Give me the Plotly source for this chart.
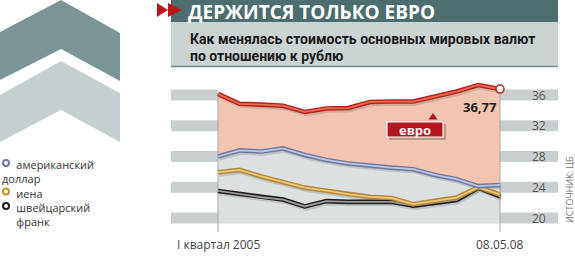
import plotly.graph_objects as go

# ---------------- data ----------------
periods = ["I кв. 2005", "II кв. 2005", "III кв. 2005", "IV кв. 2005",
           "I кв. 2006", "II кв. 2006", "III кв. 2006", "IV кв. 2006",
           "I кв. 2007", "II кв. 2007", "III кв. 2007", "IV кв. 2007",
           "I кв. 2008", "08.05.08"]
euro = [36.15, 34.85, 34.75, 34.6, 33.8, 34.25, 34.3, 35.1, 35.15, 35.15, 35.8, 36.45, 37.3, 36.77]
usd = [28.0, 28.8, 28.65, 29.05, 28.2, 27.55, 27.1, 26.8, 26.55, 26.35, 25.6, 25.05, 24.15, 24.3]
yen = [25.95, 26.25, 25.4, 24.65, 23.95, 23.55, 23.1, 22.75, 22.6, 21.8, 22.25, 22.65, 24.0, 23.05]
chf = [23.52, 23.1, 22.7, 22.4, 21.5, 22.2, 22.1, 22.1, 22.1, 21.6, 22.0, 22.35, 23.95, 22.8]
y_ticks = [20, 24, 28, 32, 36]
x_tick_labels = ["I квартал 2005", "08.05.08"]
euro_last_label = "36,77"

title = "ДЕРЖИТСЯ ТОЛЬКО ЕВРО"
subtitle1 = "Как менялась стоимость основных мировых валют"
subtitle2 = "по отношению к рублю"
source = "ИСТОЧНИК: ЦБ"
legend_names = ["американский доллар", "иена", "швейцарский франк"]

# ---------------- geometry ----------------
W, H = 575, 260
X0_PX, X1_PX = 218.0, 500.0
n = len(periods)
SX = (X1_PX - X0_PX) / (n - 1)
Y36_PX, KY = 95.0, 7.6875
xs = list(range(n))


def dx(px):
    return (px - X0_PX) / SX


def dy(py):
    return 36 - (py - Y36_PX) / KY


def PX(x):
    return x / W


def PY(y):
    return 1 - y / H


x_range = [dx(0), dx(W)]
y_range = [dy(H), dy(0)]

FONT = "Open Sans, DejaVu Sans, sans-serif"
NARROW = "Roboto, Liberation Sans, sans-serif"

fig = go.Figure()

# fills: gray under dollar, salmon between dollar and euro
base = dy(223.3)
fig.add_trace(go.Scatter(x=xs, y=[base] * n, mode="lines", line=dict(width=0),
                         hoverinfo="skip"))
fig.add_trace(go.Scatter(x=xs, y=usd, mode="lines", line=dict(width=0),
                         fill="tonexty", fillcolor="#dde0e0", hoverinfo="skip"))
fig.add_trace(go.Scatter(x=xs, y=euro, mode="lines", line=dict(width=0),
                         fill="tonexty", fillcolor="#f2c5b3", hoverinfo="skip"))

# vertical guide lines
for xi, top in [(0, euro[0]), (n - 1, euro[-1])]:
    fig.add_trace(go.Scatter(x=[xi, xi], y=[top, dy(232)], mode="lines",
                             line=dict(color="#a3aaaa", width=1), hoverinfo="skip"))

# line series with shadow, dark outline and lighter core
series = [
    (chf, "#1c1c1c", "#9c9c9c"),
    (yen, "#b0873a", "#ecc97a"),
    (usd, "#6e79a0", "#bcc3e0"),
    (euro, "#b3231c", "#ec6a52"),
]
sh_dx, sh_dy = 0.06, -0.28
for vals, dark, light in series:
    fig.add_trace(go.Scatter(x=[v + sh_dx for v in xs], y=[v + sh_dy for v in vals],
                             mode="lines", line=dict(color="rgba(0,0,0,0.13)", width=4.5),
                             hoverinfo="skip"))
for vals, dark, light in series:
    fig.add_trace(go.Scatter(x=xs, y=vals, mode="lines",
                             line=dict(color=dark, width=4.6), hoverinfo="skip"))
    fig.add_trace(go.Scatter(x=xs, y=vals, mode="lines",
                             line=dict(color=light, width=1.8), hoverinfo="skip"))

# end marker on euro
fig.add_trace(go.Scatter(x=[xs[-1]], y=[euro[-1]], mode="markers",
                         marker=dict(size=8, color="white",
                                     line=dict(color="#b3231c", width=1.5)),
                         hoverinfo="skip"))

shapes = []
# gray horizontal bands
for v in y_ticks:
    shapes.append(dict(type="rect", xref="x", yref="y", x0=dx(171), x1=dx(558),
                       y0=v - 0.72, y1=v + 0.72, fillcolor="#c9cfcf",
                       line=dict(width=0), layer="below"))
# white plot window over the bands
shapes.append(dict(type="rect", xref="x", yref="y", x0=0, x1=n - 1,
                   y0=base, y1=39, fillcolor="white", line=dict(width=0), layer="below"))

# header bars
shapes.append(dict(type="rect", xref="paper", yref="paper", x0=PX(171), x1=PX(558),
                   y0=PY(22), y1=PY(0), fillcolor="#4e6d6f", line=dict(width=0)))
shapes.append(dict(type="rect", xref="paper", yref="paper", x0=PX(171), x1=PX(558),
                   y0=PY(66), y1=PY(22), fillcolor="#ccd3d3", line=dict(width=0)))
shapes.append(dict(type="line", xref="paper", yref="paper", x0=PX(171), x1=PX(558),
                   y0=PY(66.5), y1=PY(66.5), line=dict(color="#6f8a8b", width=1.5)))


def poly(pts, color):
    path = "M " + " L ".join(f"{PX(a):.5f},{PY(b):.5f}" for a, b in pts) + " Z"
    return dict(type="path", xref="paper", yref="paper", path=path,
                fillcolor=color, line=dict(width=0))


# red arrows
shapes.append(poly([(157, 3), (168, 10), (157, 17)], "#c0141c"))
shapes.append(poly([(168, 3), (182, 10), (168, 17)], "#c0141c"))

# decorative chevrons
shapes.append(poly([(0, 32), (61, 0), (120, 33), (120, 81), (61, 49), (0, 80)], "#7b9597"))
shapes.append(poly([(0, 95), (61, 61), (120, 93), (120, 142), (61, 110), (0, 142)], "#c6cfcf"))

# legend (one text block) with rings
LEG_FS = 11
LEG_STEP = LEG_FS * 1.3
LEG_TOP = 163.0
words = []
for i, name in enumerate(legend_names):
    parts = name.split(" ")
    words.append(("ring", i, parts[0]))
    for p in parts[1:]:
        words.append(("cont", i, p))
leg_colors = ["#6e79a0", "#c9972a", "#1c1c1c"]
lines_txt = []
for k, (kind, i, w) in enumerate(words):
    yy = LEG_TOP + k * LEG_STEP
    if kind == "ring":
        shapes.append(dict(type="circle", xref="paper", yref="paper",
                           x0=PX(3), x1=PX(9), y0=PY(yy + 3), y1=PY(yy - 3),
                           fillcolor="white", line=dict(color=leg_colors[i], width=2)))
        lines_txt.append("\u00a0" * 5 + w)
    else:
        lines_txt.append(w if i == 0 else "\u00a0" * 5 + w)

# euro label box (shadow + box) and triangle
shapes.append(dict(type="rect", xref="paper", yref="paper", x0=PX(389), x1=PX(446),
                   y0=PY(140), y1=PY(124), fillcolor="rgba(0,0,0,0.22)", line=dict(width=0)))
shapes.append(dict(type="rect", xref="paper", yref="paper", x0=PX(387), x1=PX(443),
                   y0=PY(137), y1=PY(122), fillcolor="#b5161d",
                   line=dict(color="white", width=1.2)))
shapes.append(poly([(428.5, 119.5), (437.5, 119.5), (433, 113)], "#b5161d"))

ann = []
# y tick labels
for v in y_ticks:
    ann.append(dict(x=dx(539), y=v, xref="x", yref="y", text=str(v), showarrow=False,
                    font=dict(family=FONT, size=12, color="#555555"), xanchor="center",
                    yanchor="middle"))
# x labels
for xi, t in zip([0, n - 1], x_tick_labels):
    ann.append(dict(x=xi, y=dy(244), xref="x", yref="y", text=t, showarrow=False,
                    font=dict(family=FONT, size=12, color="#444444"), xanchor="center",
                    yanchor="middle"))
# last value
ann.append(dict(x=dx(480), y=dy(107), xref="x", yref="y", text=f"<b>{euro_last_label}</b>",
                showarrow=False, font=dict(family=FONT, size=13, color="#222222"),
                xanchor="center", yanchor="middle"))
ann.append(dict(x=PX(415), y=PY(129.5), xref="paper", yref="paper", text="<b>евро</b>",
                showarrow=False, font=dict(family=FONT, size=13, color="white"),
                xanchor="center", yanchor="middle"))
# title & subtitle
ann.append(dict(x=PX(187), y=PY(12.4), xref="paper", yref="paper", text=f"<b>{title}</b>",
                showarrow=False, borderpad=0, font=dict(family=FONT, size=19, color="white"),
                xanchor="left", yanchor="middle"))
ann.append(dict(x=PX(188), y=PY(38.5), xref="paper", yref="paper", text=f"<b>{subtitle1}</b>",
                showarrow=False, font=dict(family=NARROW, size=14, color="#1a1a1a"),
                xanchor="left", yanchor="middle"))
ann.append(dict(x=PX(188), y=PY(55.5), xref="paper", yref="paper", text=f"<b>{subtitle2}</b>",
                showarrow=False, font=dict(family=NARROW, size=14, color="#1a1a1a"),
                xanchor="left", yanchor="middle"))
# legend text block
ann.append(dict(x=PX(0), y=PY(LEG_TOP - LEG_STEP / 2 - 1), xref="paper", yref="paper",
                text="<br>".join(lines_txt), showarrow=False, align="left",
                font=dict(family=FONT, size=LEG_FS, color="#333333"),
                xanchor="left", yanchor="top"))
# source
ann.append(dict(x=PX(569), y=PY(190), xref="paper", yref="paper", text=source,
                showarrow=False, textangle=-90,
                font=dict(family=FONT, size=9, color="#777777"),
                xanchor="center", yanchor="middle"))

fig.update_layout(
    width=W, height=H, margin=dict(l=0, r=0, t=0, b=0),
    paper_bgcolor="white", plot_bgcolor="white", showlegend=False,
    xaxis=dict(range=x_range, visible=False, fixedrange=True),
    yaxis=dict(range=y_range, visible=False, fixedrange=True),
    shapes=shapes, annotations=ann,
)

fig.write_html("out.html")
